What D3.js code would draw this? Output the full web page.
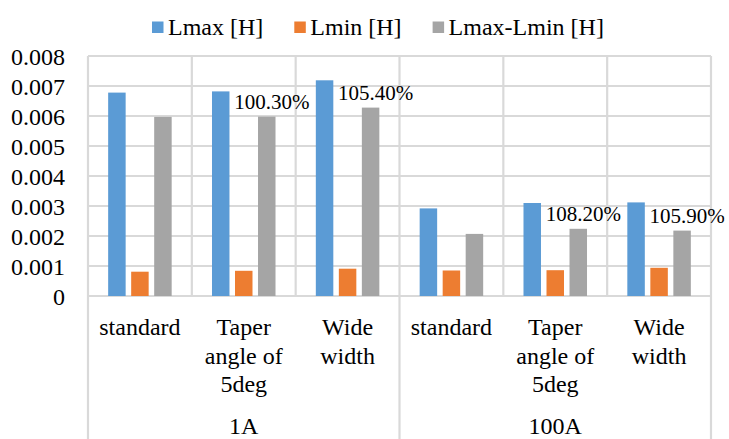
<!DOCTYPE html>
<html>
<head>
<meta charset="utf-8">
<script src="https://cdn.jsdelivr.net/npm/d3@7"></script>
<style>
  body { margin: 0; background: #fff; font-family: 'Liberation Serif'; }
  svg, svg text { font-family: 'Liberation Serif' !important; }
</style>
</head>
<body>
<div id="chart"></div>
<script>
// data
const groups = ["1A", "100A"];
const subLabels = [["standard"], ["Taper", "angle of", "5deg"], ["Wide", "width"],
                   ["standard"], ["Taper", "angle of", "5deg"], ["Wide", "width"]];
const seriesNames = ["Lmax [H]", "Lmin [H]", "Lmax-Lmin [H]"];
const seriesColors = ["#5b9bd5", "#ed7d31", "#a5a5a5"];
const lmax = [0.00678, 0.00682, 0.00719, 0.00292, 0.00310, 0.00312];
const lmin = [0.00081, 0.00084, 0.00091, 0.00085, 0.00086, 0.00094];
const ldiff = [0.00597, 0.00598, 0.00628, 0.00207, 0.00224, 0.00218];
const pctLabels = ["", "100.30%", "105.40%", "", "108.20%", "105.90%"];
const yTicks = [0, 0.001, 0.002, 0.003, 0.004, 0.005, 0.006, 0.007, 0.008];
const yTickLabels = ["0", "0.001", "0.002", "0.003", "0.004", "0.005", "0.006", "0.007", "0.008"];

const W = 729, H = 439;
const plotLeft = 88, plotRight = 711, plotTop = 56, plotBottom = 296;
const grid = "#d9d9d9";
const serif = "'Liberation Serif'";

const svg = d3.select("#chart").append("svg")
    .attr("width", W).attr("height", H)
    .attr("font-family", "Liberation Serif");

const series = [lmax, lmin, ldiff];
const idx = d3.range(subLabels.length);

const x = d3.scaleBand().domain(idx).range([plotLeft, plotRight]).padding(0);
const xs = d3.scaleBand().domain([0, 1, 2]).range([0, x.bandwidth()])
    .paddingInner(0.24).paddingOuter(0.876);
const y = d3.scaleLinear().domain([0, 0.008]).range([plotBottom, plotTop]);

// text centred vertically on py (baseline pushed down by ~0.35em)
function stext(g, px, py, str, size, anchor) {
    return svg.append("text")
        .attr("x", px).attr("y", py + size * 0.35)
        .attr("font-family", "Liberation Serif")
        .attr("font-size", size)
        .style("font-family", serif)
        .attr("text-anchor", anchor)
        .attr("fill", "#000")
        .text(str);
}

// horizontal gridlines
svg.append("g").selectAll("line")
    .data(yTicks)
    .enter().append("line")
    .attr("x1", plotLeft).attr("x2", plotRight)
    .attr("y1", d => y(d)).attr("y2", d => y(d))
    .attr("stroke", grid).attr("stroke-width", 2.2);

// vertical gridlines at category edges
const edges = idx.map(i => x(i)).concat([plotRight]);
svg.append("g").selectAll("line")
    .data(edges)
    .enter().append("line")
    .attr("x1", d => d).attr("x2", d => d)
    .attr("y1", plotTop)
    .attr("y2", (d, i) => (i % 3 === 0) ? H : plotBottom)
    .attr("stroke", grid).attr("stroke-width", 2.2);

// y axis labels (scale positions, text drawn as plain svg text)
const yAxis = d3.axisLeft(y).tickValues(yTicks).tickFormat((d, i) => yTickLabels[i]).tickSize(0);
const ya = svg.append("g").attr("transform", `translate(${plotLeft},0)`).call(yAxis);
ya.attr("font-family", "Liberation Serif").attr("font-size", 24);
ya.select(".domain").remove();
ya.selectAll("text")
    .attr("x", -23).attr("dy", "0.35em")
    .attr("font-family", "Liberation Serif")
    .style("font-family", serif)
    .attr("fill", "#000");

// bars
series.forEach((vals, s) => {
    svg.append("g").selectAll("rect")
        .data(vals)
        .enter().append("rect")
        .attr("x", (d, i) => x(i) + xs(s))
        .attr("width", xs.bandwidth())
        .attr("y", d => y(d))
        .attr("height", d => y(0) - y(d))
        .attr("fill", seriesColors[s]);
});

// percentage notes over the Lmax-Lmin bars
pctLabels.forEach((t, i) => {
    if (!t) return;
    stext(svg, x(i) + xs(2) + xs.bandwidth() / 2 + 5, y(ldiff[i]) - 15, t, 21, "middle");
});

// category labels
subLabels.forEach((lines, i) => {
    lines.forEach((ln, k) => {
        stext(svg, x(i) + x.bandwidth() / 2, 327 + k * 28.3, ln, 24, "middle");
    });
});
groups.forEach((g, j) => {
    const gx = (x(j * 3) + (j === groups.length - 1 ? plotRight : x(j * 3 + 3))) / 2;
    stext(svg, gx, 426, g, 24, "middle");
});

// legend
let lx = 152;
seriesNames.forEach((name, s) => {
    svg.append("rect")
        .attr("x", lx).attr("y", 21.5)
        .attr("width", 11.5).attr("height", 11.5)
        .attr("fill", seriesColors[s]);
    const t = stext(svg, lx + 16, 27, name, 24, "start");
    lx += 16 + t.node().getComputedTextLength() + 31;
});
</script>
</body>
</html>
